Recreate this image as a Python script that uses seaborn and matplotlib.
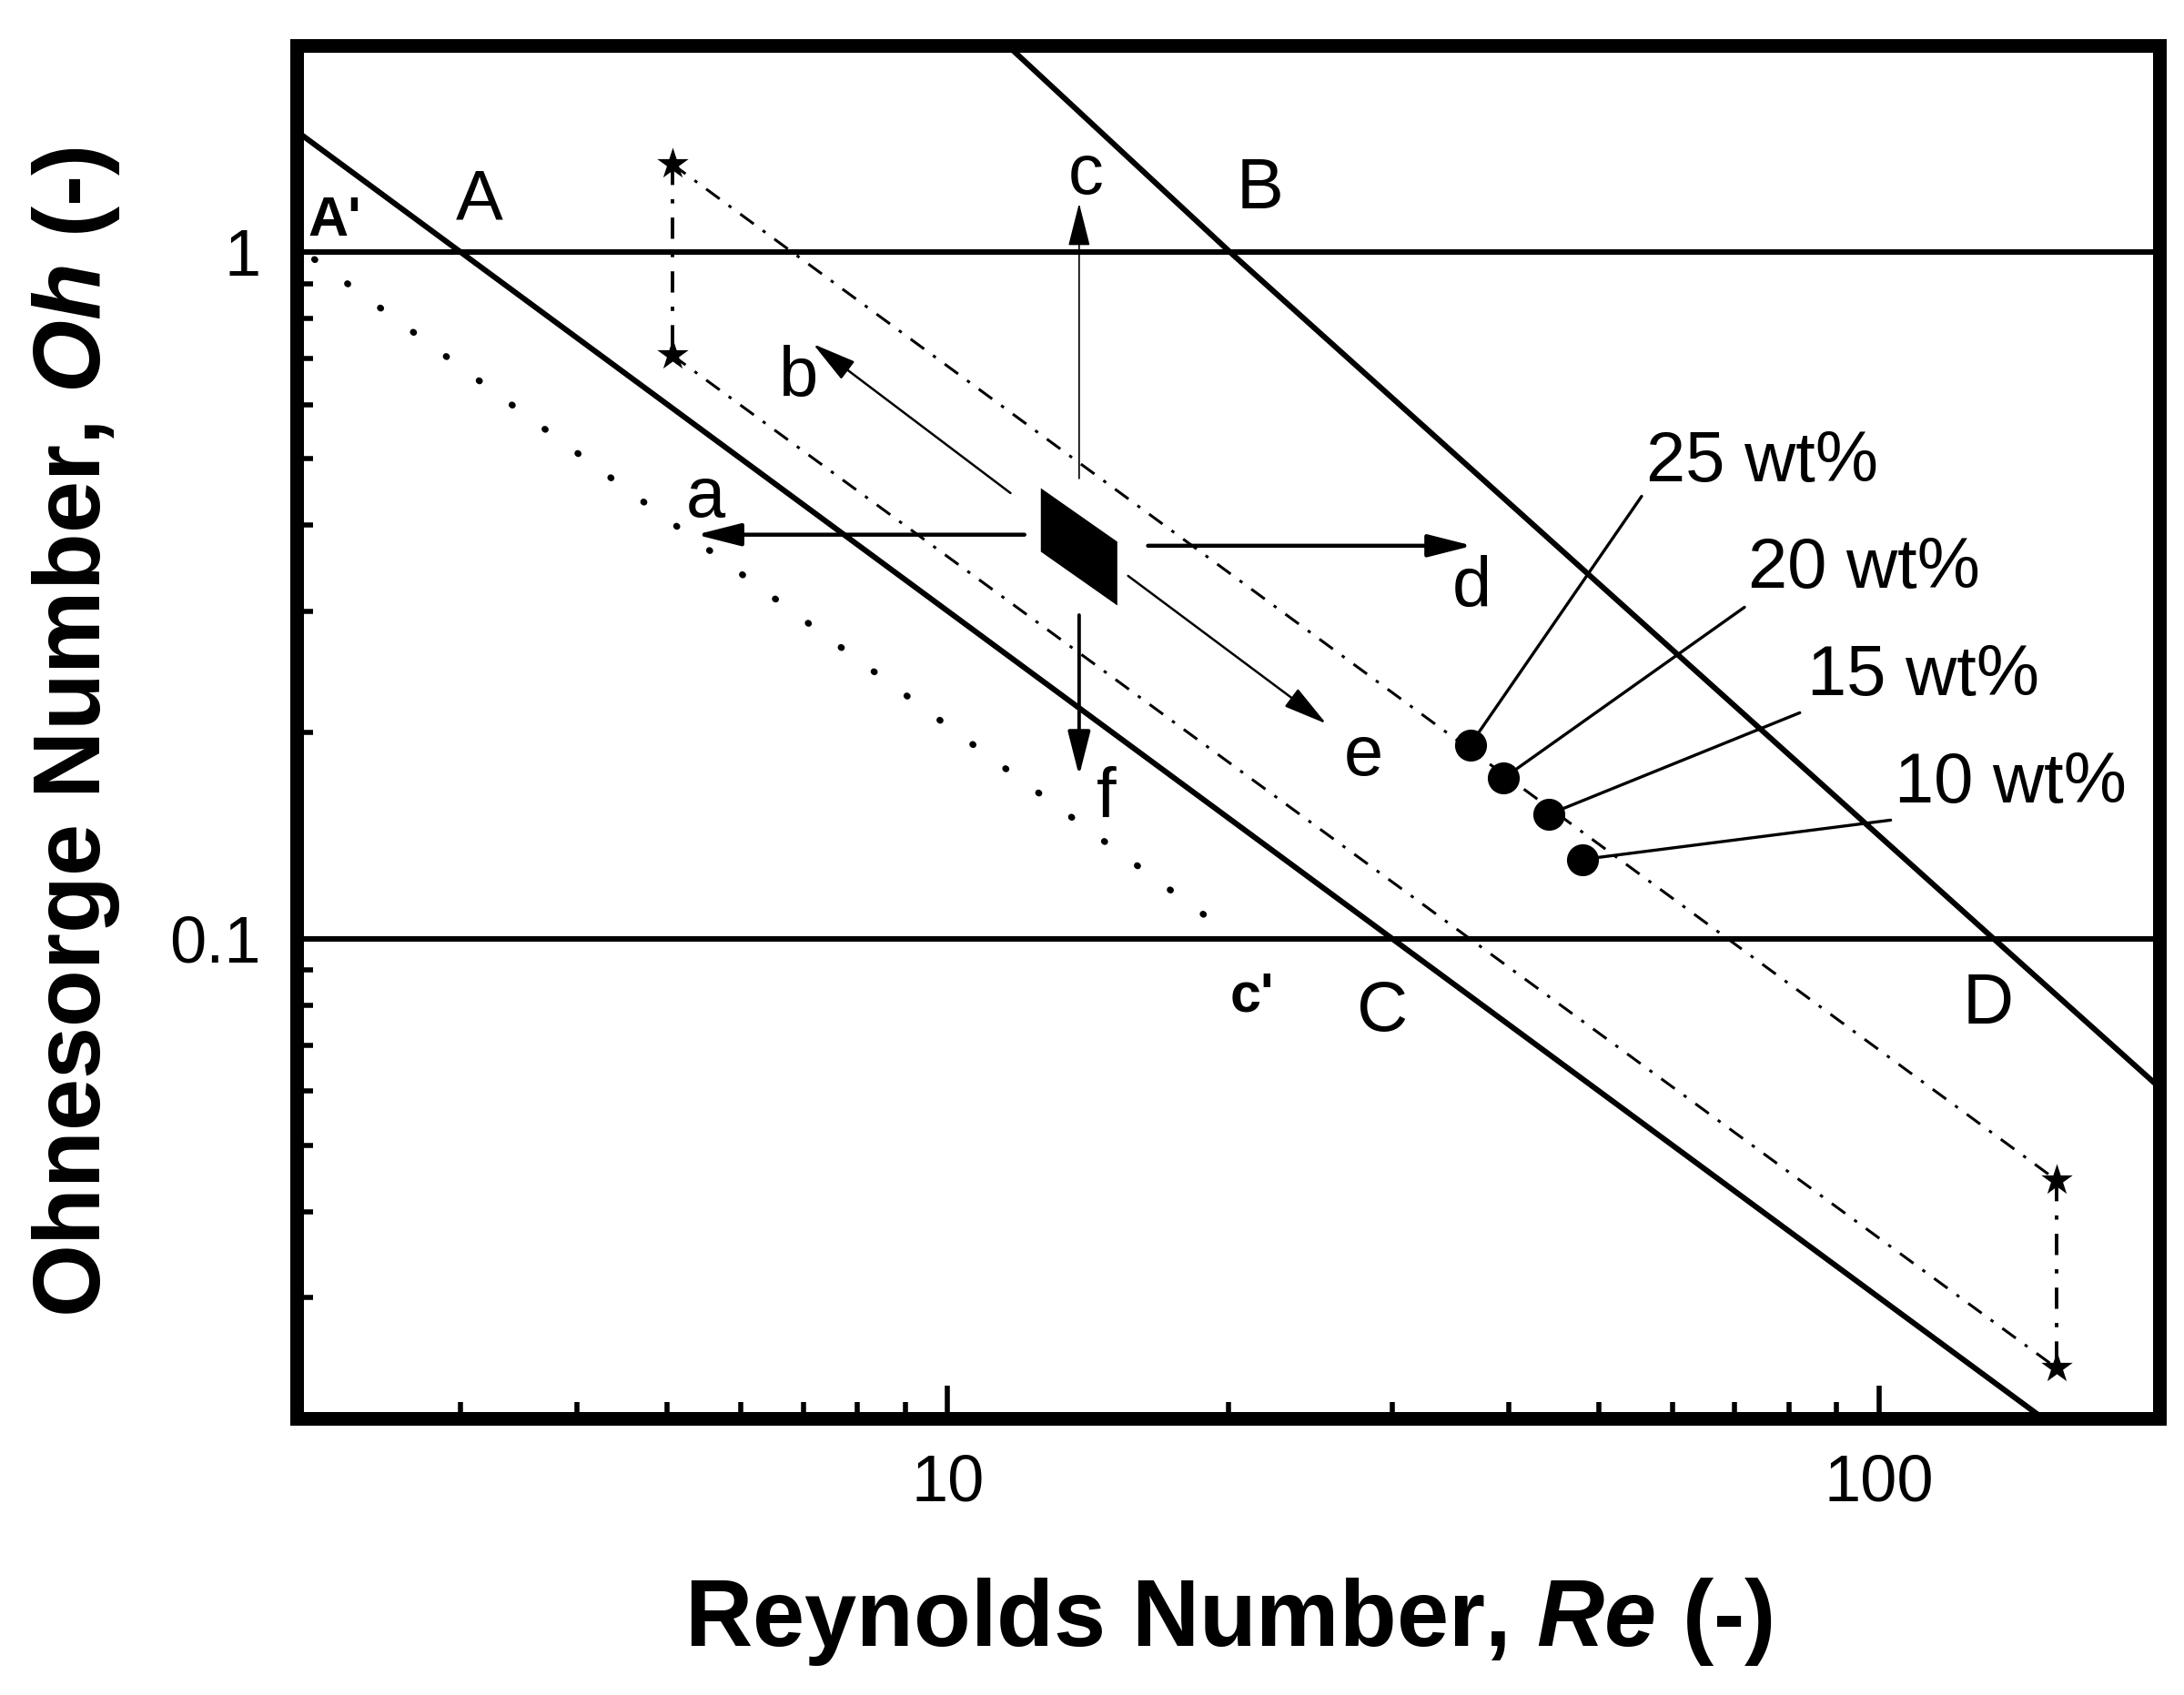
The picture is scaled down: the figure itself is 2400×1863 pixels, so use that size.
import matplotlib.pyplot as plt
import seaborn as sns
from matplotlib.ticker import FixedLocator, FixedFormatter, LogLocator, NullFormatter

# boundary lines (Re, Oh)
ac_re = [2.0, 150.0]
ac_oh = [1.5, 0.02]
bd_re = [11.6, 20.1, 132.7, 200.0]
bd_oh = [2.0, 1.0, 0.1, 0.0607]
oh_levels = [1.0, 0.1]

# dotted A' - c' line
dot_re = [2.09, 18.9]
dot_oh = [0.976, 0.108]

# dash-dot window, corners marked with stars
star_re = [5.06, 5.06, 155.0, 155.0]
star_oh = [1.344, 0.708, 0.0445, 0.0237]

# measured inks
conc_labels = ['25 wt%', '20 wt%', '15 wt%', '10 wt%']
conc_re = [36.4, 39.5, 44.2, 48.0]
conc_oh = [0.1916, 0.1712, 0.1517, 0.1304]
conc_line_re = [55.6, 71.7, 82.2, 102.9]
conc_line_oh = [0.4409, 0.3039, 0.2133, 0.1488]
conc_text_re = [56.2, 72.4, 83.8, 103.9]
conc_text_oh = [0.464, 0.324, 0.226, 0.158]

# printing window (filled parallelogram)
box_re = [12.59, 15.21, 15.21, 12.59]
box_oh = [0.4531, 0.3786, 0.3057, 0.3661]

# arrows a-f (start -> end)
arrow_names = ['a', 'b', 'c', 'd', 'e', 'f']
arrow_re0 = [12.09, 11.68, 13.84, 16.41, 15.62, 13.84]
arrow_oh0 = [0.3876, 0.4457, 0.468, 0.3735, 0.3376, 0.296]
arrow_re1 = [5.37, 7.17, 13.84, 36.6, 25.5, 13.84]
arrow_oh1 = [0.3876, 0.7348, 1.178, 0.3735, 0.2056, 0.1726]
arrow_text_re = [5.50, 6.91, 14.08, 36.55, 27.95, 14.81]
arrow_text_oh = [0.411, 0.615, 1.218, 0.304, 0.1728, 0.1498]

# region letters
region_labels = ['A', 'B', 'C', 'D']
region_re = [3.14, 21.64, 29.27, 130.8]
region_oh = [1.115, 1.157, 0.0735, 0.0753]
prime_labels = ["A'", "c'"]
prime_re = [2.196, 21.23]
prime_oh = [1.058, 0.0783]

sns.set_style('ticks')
plt.rcParams['font.family'] = ['Liberation Sans', 'DejaVu Sans']
plt.rcParams['mathtext.fontset'] = 'custom'
plt.rcParams['mathtext.it'] = 'Liberation Sans:italic:bold'
plt.rcParams['mathtext.rm'] = 'Liberation Sans:bold'
for key in ['text.color', 'axes.labelcolor', 'xtick.color', 'ytick.color', 'axes.edgecolor']:
    plt.rcParams[key] = 'black'

fig = plt.figure(figsize=(12, 9.315), dpi=200)
ax = fig.add_axes([326 / 2400, 1 - 1559 / 1863, (2373 - 326) / 2400, (1559 - 50) / 1863])
ax.set_xscale('log')
ax.set_yscale('log')

# solid boundaries
sns.lineplot(x=ac_re, y=ac_oh, ax=ax, color='k', lw=2.2, estimator=None, sort=False)
sns.lineplot(x=bd_re, y=bd_oh, ax=ax, color='k', lw=2.2, estimator=None, sort=False)
for oh in oh_levels:
    ax.axhline(oh, color='k', lw=2.2)

# dotted line
sns.lineplot(x=dot_re, y=dot_oh, ax=ax, color='k', lw=2.6, estimator=None, sort=False,
             linestyle=(0, (0.1, 6.12)), dash_capstyle='round')

# dash-dot window
dashdot = (0, (6, 4, 1.2, 4))
sns.lineplot(x=[star_re[0], star_re[2]], y=[star_oh[0], star_oh[2]], ax=ax, color='k',
             lw=1.1, linestyle=dashdot, estimator=None, sort=False)
sns.lineplot(x=[star_re[1], star_re[3]], y=[star_oh[1], star_oh[3]], ax=ax, color='k',
             lw=1.1, linestyle=dashdot, estimator=None, sort=False)
sns.lineplot(x=star_re[:2], y=star_oh[:2], ax=ax, color='k', lw=1.4,
             linestyle=dashdot, estimator=None, sort=False)
sns.lineplot(x=star_re[2:], y=star_oh[2:], ax=ax, color='k', lw=1.4,
             linestyle=dashdot, estimator=None, sort=False)
sns.scatterplot(x=star_re, y=star_oh, ax=ax, marker='*', s=170, color='k',
                edgecolor='k', linewidth=0, zorder=5)

# concentration points and leader lines
for i in range(len(conc_labels)):
    ax.plot([conc_re[i], conc_line_re[i]], [conc_oh[i], conc_line_oh[i]], color='k', lw=1.2)
    ax.text(conc_text_re[i], conc_text_oh[i], conc_labels[i], fontsize=28,
            ha='left', va='baseline')
sns.scatterplot(x=conc_re, y=conc_oh, ax=ax, s=160, color='k', edgecolor='k',
                linewidth=0, zorder=5)

# printing window
ax.fill(box_re, box_oh, color='k', lw=0, zorder=4)

# arrows
arrow_lw = {'a': 1.6, 'b': 0.9, 'c': 0.6, 'd': 1.6, 'e': 0.9, 'f': 1.4}
for i, name in enumerate(arrow_names):
    ax.annotate('', xy=(arrow_re1[i], arrow_oh1[i]), xytext=(arrow_re0[i], arrow_oh0[i]),
                arrowprops=dict(arrowstyle='-|>,head_length=15,head_width=3.8',
                                mutation_scale=1, lw=arrow_lw[name], color='k',
                                shrinkA=0, shrinkB=0))
    ax.text(arrow_text_re[i], arrow_text_oh[i], name, fontsize=28, ha='center', va='baseline')

for lab, re, oh in zip(region_labels, region_re, region_oh):
    ax.text(re, oh, lab, fontsize=28, ha='center', va='baseline')
for lab, re, oh in zip(prime_labels, prime_re, prime_oh):
    ax.text(re, oh, lab, fontsize=22, fontweight='bold', ha='center', va='baseline')

ax.set_xlim(2, 200)
ax.set_ylim(0.02, 2.0)

ax.xaxis.set_major_locator(FixedLocator([10, 100]))
ax.xaxis.set_major_formatter(FixedFormatter(['10', '100']))
ax.yaxis.set_major_locator(FixedLocator([0.1, 1]))
ax.yaxis.set_major_formatter(FixedFormatter(['0.1', '1']))
for axis in (ax.xaxis, ax.yaxis):
    axis.set_minor_locator(LogLocator(base=10, subs=range(2, 10), numticks=20))
    axis.set_minor_formatter(NullFormatter())

ax.tick_params(which='both', direction='in', top=False, right=False,
               labelsize=26, pad=14, color='k', labelcolor='k')
ax.tick_params(which='major', length=13, width=2)
ax.tick_params(which='minor', length=6.5, width=2)
for s in ax.spines.values():
    s.set_linewidth(5.4)
    s.set_color('k')

ax.set_xlabel('Reynolds Number, $Re$ (-)', fontsize=37, fontweight='bold', labelpad=24)
ax.set_ylabel('Ohnesorge Number, $Oh$ (-)', fontsize=37, fontweight='bold', labelpad=19)

fig.savefig('out.png', dpi=200)
